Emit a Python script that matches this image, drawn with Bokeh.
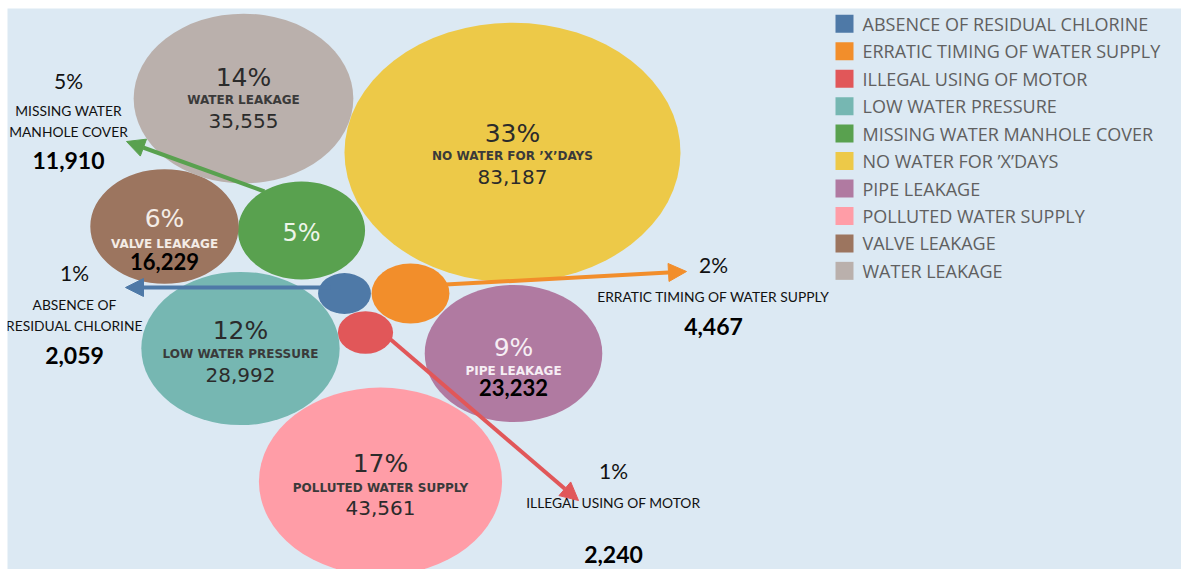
import math
from bokeh.plotting import figure
from bokeh.models import Range1d, ColumnDataSource, Arrow, NormalHead
from bokeh.core.properties import value
from bokeh.embed import file_html
from bokeh.resources import INLINE

# ---------------- data ----------------
categories = [
    "ABSENCE OF RESIDUAL CHLORINE",
    "ERRATIC TIMING OF WATER SUPPLY",
    "ILLEGAL USING OF MOTOR",
    "LOW WATER PRESSURE",
    "MISSING WATER MANHOLE COVER",
    "NO WATER FOR \u2019X\u2019DAYS",
    "PIPE LEAKAGE",
    "POLLUTED WATER SUPPLY",
    "VALVE LEAKAGE",
    "WATER LEAKAGE",
]
counts = [2059, 4467, 2240, 28992, 11910, 83187, 23232, 43561, 16229, 35555]
colors = ["#4e79a7", "#f28e2b", "#e15759", "#76b7b2", "#59a14f",
          "#edc948", "#b07aa1", "#ff9da7", "#9c755f", "#bab0ac"]

total = sum(counts)
pct_labels = [f"{round(100 * c / total)}%" for c in counts]
count_labels = [f"{c:,}" for c in counts]

# ---------------- layout (packing positions, pixel space) ----------------
cx = [344, 410, 365, 240, 301, 512, 513, 380, 164, 243]
cy = [293, 293, 332, 348, 230, 152, 353, 481, 226, 98]
SX, SY = 1.165, 0.90  # bubble diameter per sqrt(count)

W, H = 1181, 569
LEFT, TOP = 7, 8
BG = "#dce9f3"

p = figure(width=W, height=H, output_backend="svg", toolbar_location=None,
           x_range=Range1d(LEFT, W), y_range=Range1d(H, TOP),
           x_axis_type=None, y_axis_type=None,
           min_border_left=LEFT, min_border_top=TOP,
           min_border_right=0, min_border_bottom=0,
           background_fill_color=BG, border_fill_color="white")
p.grid.visible = False
p.outline_line_color = None

bw = [SX * math.sqrt(c) for c in counts]
bh = [SY * math.sqrt(c) for c in counts]
src = ColumnDataSource(dict(x=cx, y=cy, w=bw, h=bh, color=colors, cat=categories))
p.ellipse(x="x", y="y", width="w", height="h", fill_color="color",
          line_color=None, source=src)

BUB_FONT = value("DejaVu Sans")
CAL_FONT = value("Lato")

# ---------- in-bubble labels ----------
inside = [9, 5, 8, 3, 6, 7]           # indices of bubbles with labels inside
pct_dy = [-21, -19, -8, -18, -6, -18]
name_dy = [1, 3, 17, 5, 17, 6]
val_dy = [22, 24, 35, 26, 34, 26]
dark = "#2b2b2b"
txt_col = [dark, dark, "#f4ece6", dark, "#f6eef4", dark]
name_col = ["#3a3a3a", "#3a3a3a", "#f4ece6", "#3a3a3a", "#f6eef4", "#3a3a3a"]

p.text(x=[cx[i] for i in inside], y=[cy[i] + d for i, d in zip(inside, pct_dy)],
       text=[pct_labels[i] for i in inside], text_color=txt_col,
       text_font=BUB_FONT, text_font_size="25px",
       text_align="center", text_baseline="middle")
p.text(x=[cx[i] for i in inside], y=[cy[i] + d for i, d in zip(inside, name_dy)],
       text=[categories[i] for i in inside], text_color=name_col,
       text_font=BUB_FONT, text_font_size="12px", text_font_style="bold",
       text_align="center", text_baseline="middle")
# plain values (dark, regular) and bold black values
plain = [0, 1, 3, 5]
boldv = [2, 4]
p.text(x=[cx[inside[k]] for k in plain],
       y=[cy[inside[k]] + val_dy[k] for k in plain],
       text=[count_labels[inside[k]] for k in plain], text_color=dark,
       text_font=BUB_FONT, text_font_size="20px",
       text_align="center", text_baseline="middle")
p.text(x=[cx[inside[k]] for k in boldv],
       y=[cy[inside[k]] + val_dy[k] for k in boldv],
       text=[count_labels[inside[k]] for k in boldv], text_color="#000000",
       text_font=CAL_FONT, text_font_size="22px", text_font_style="bold",
       text_align="center", text_baseline="middle")
# green bubble: only percent
p.text(x=[cx[4]], y=[cy[4] + 2], text=[pct_labels[4]], text_color="#eef5ea",
       text_font=BUB_FONT, text_font_size="24px",
       text_align="center", text_baseline="middle")

# ---------- callouts for small bubbles ----------
outside = [4, 0, 1, 2]
call_x = [68, 74, 713, 613]
call_pct_y = [80, 272, 264, 470]
call_lines = [["MISSING WATER", "MANHOLE COVER"],
              ["ABSENCE OF", "RESIDUAL CHLORINE"],
              ["ERRATIC TIMING OF WATER SUPPLY"],
              ["ILLEGAL USING OF MOTOR"]]
call_line_y = [[110, 131], [304, 325], [296], [502]]
call_val_y = [160, 355, 326, 554]

p.text(x=call_x, y=call_pct_y, text=[pct_labels[i] for i in outside],
       text_color="#111111", text_font=CAL_FONT, text_font_size="21px",
       text_align="center", text_baseline="middle")
lx, ly, lt = [], [], []
for k in range(len(outside)):
    for t, yy in zip(call_lines[k], call_line_y[k]):
        lx.append(call_x[k]); ly.append(yy); lt.append(t)
p.text(x=lx, y=ly, text=lt, text_color="#111111", text_font=CAL_FONT,
       text_font_size="13.8px", text_align="center", text_baseline="middle")
p.text(x=call_x, y=call_val_y, text=[count_labels[i] for i in outside],
       text_color="#000000", text_font=CAL_FONT, text_font_size="23px",
       text_font_style="bold", text_align="center", text_baseline="middle")

# arrows from bubble to callout
arr_start = [(264, 191), (330, 287), (445, 284), (389, 338)]
arr_end = [(126, 141), (125, 287), (686, 271), (578, 500)]
for k, i in enumerate(outside):
    (x0, y0), (x1, y1) = arr_start[k], arr_end[k]
    p.add_layout(Arrow(x_start=x0, y_start=y0, x_end=x1, y_end=y1,
                       line_color=colors[i], line_width=4,
                       end=NormalHead(size=18, fill_color=colors[i],
                                      line_color=colors[i], line_width=1)))

# ---------- legend ----------
leg_x = 844
leg_y0, leg_dy = 23.3, 27.45
leg_y = [leg_y0 + leg_dy * i for i in range(len(categories))]
p.rect(x=[leg_x] * len(categories), y=leg_y, width=18, height=18,
       fill_color=colors, line_color=None)
p.text(x=[862] * len(categories), y=leg_y, text=categories,
       text_color="#606060", text_font=value("Open Sans"),
       text_font_size="18px", text_align="left", text_baseline="middle")

open("out.html", "w").write(file_html(p, INLINE))
